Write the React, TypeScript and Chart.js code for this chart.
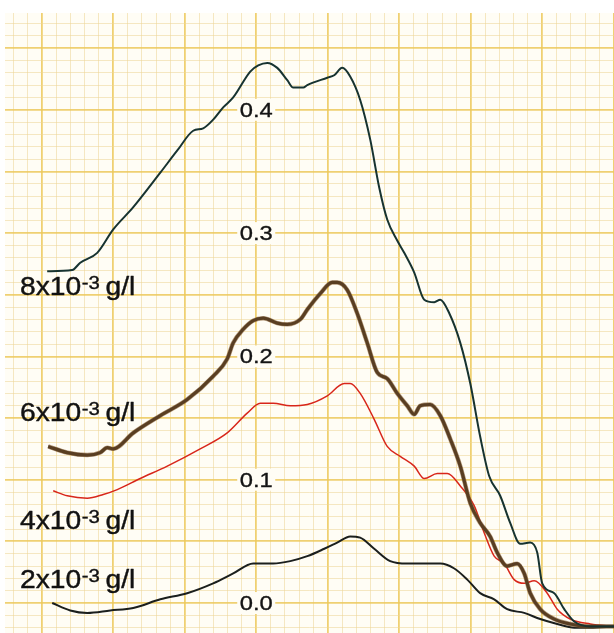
import React, { useEffect, useRef } from "react";
import { Chart, registerables } from "chart.js";

Chart.register(...registerables);

// Abscissa in chart-paper minor divisions, ordinate in absorbance units.
const xC8 = [0.38, 2.13, 2.69, 3.88, 5.0, 6.4, 8.29, 9.48, 10.59, 11.29, 11.99, 12.69, 13.39, 14.58, 15.14, 15.77, 16.47, 17.17, 17.59, 18.29, 18.57, 19.97, 20.45, 21.01, 21.57, 22.27, 22.97, 23.6, 24.16, 24.86, 25.35, 26.05, 26.75, 27.45, 27.87, 28.5, 29.27, 29.97, 30.66, 31.29, 32.06, 32.76, 33.46, 34.16, 34.65, 35.0, 35.84, 36.54, 37.24, 38.36, 40.03];
const yC8 = [0.269, 0.27, 0.276, 0.284, 0.303, 0.321, 0.349, 0.367, 0.383, 0.385, 0.392, 0.402, 0.41, 0.431, 0.436, 0.438, 0.434, 0.424, 0.418, 0.418, 0.42, 0.426, 0.428, 0.434, 0.427, 0.408, 0.376, 0.337, 0.311, 0.294, 0.284, 0.268, 0.246, 0.244, 0.246, 0.235, 0.211, 0.178, 0.135, 0.103, 0.087, 0.065, 0.048, 0.049, 0.041, 0.016, 0.008, -0.005, -0.015, -0.019, -0.019];

const xC6 = [0.45, 1.78, 3.18, 4.09, 4.58, 5.0, 6.4, 8.29, 10.17, 11.99, 12.97, 13.39, 14.09, 14.79, 15.49, 16.47, 17.17, 18.08, 18.57, 19.48, 20.31, 20.66, 21.36, 22.06, 22.76, 23.46, 24.16, 24.86, 25.56, 26.05, 26.47, 27.17, 27.87, 28.57, 29.27, 29.97, 30.66, 31.36, 31.85, 32.55, 33.25, 33.74, 34.16, 34.86, 35.84, 36.96, 38.36, 40.03];
const yC6 = [0.127, 0.122, 0.12, 0.122, 0.126, 0.125, 0.138, 0.152, 0.165, 0.184, 0.198, 0.211, 0.222, 0.229, 0.231, 0.227, 0.226, 0.23, 0.238, 0.251, 0.26, 0.26, 0.254, 0.235, 0.211, 0.187, 0.182, 0.17, 0.16, 0.153, 0.16, 0.161, 0.152, 0.133, 0.111, 0.081, 0.065, 0.054, 0.041, 0.03, 0.032, 0.024, 0.008, -0.005, -0.013, -0.017, -0.019, -0.019];

const xC4 = [0.8, 1.78, 3.18, 4.3, 5.28, 6.89, 8.78, 11.08, 12.97, 14.37, 15.28, 16.19, 17.38, 18.57, 19.97, 21.15, 21.57, 22.27, 23.25, 24.16, 25.07, 26.05, 26.75, 27.66, 28.36, 29.27, 30.24, 30.94, 31.64, 32.34, 33.04, 33.74, 34.44, 35.35, 36.05, 36.96, 38.36, 40.03];
const yC4 = [0.091, 0.087, 0.085, 0.088, 0.092, 0.101, 0.111, 0.125, 0.138, 0.154, 0.162, 0.162, 0.16, 0.161, 0.168, 0.178, 0.178, 0.17, 0.149, 0.127, 0.119, 0.111, 0.101, 0.105, 0.105, 0.095, 0.079, 0.057, 0.038, 0.032, 0.019, 0.016, 0.018, 0.008, -0.005, -0.013, -0.017, -0.019];

const xC2 = [0.73, 1.99, 3.18, 4.79, 6.4, 8.29, 10.17, 11.99, 13.39, 14.79, 16.19, 17.38, 18.57, 19.76, 20.66, 21.57, 22.27, 23.25, 24.37, 25.56, 26.75, 27.87, 28.85, 29.76, 30.66, 31.64, 32.55, 33.74, 34.86, 36.05, 37.24, 38.36, 40.03];
const yC2 = [0.0, -0.006, -0.008, -0.006, -0.004, 0.003, 0.008, 0.016, 0.024, 0.032, 0.032, 0.034, 0.038, 0.044, 0.049, 0.054, 0.053, 0.044, 0.034, 0.032, 0.032, 0.032, 0.028, 0.019, 0.008, 0.003, -0.005, -0.008, -0.013, -0.017, -0.02, -0.02, -0.019];

// Concentration labels: mantissa, exponent, unit, and the absorbance their baseline sits at.
const seriesMantissa = ["8x10", "6x10", "4x10", "2x10"];
const seriesExponent = "-3";
const seriesUnit = "g/l";
const seriesLabelAt = [0.250, 0.148, 0.060, 0.012];

// Absorbance values written on the paper.
const absorbanceLabels = [0.0, 0.1, 0.2, 0.3, 0.4];
const absorbanceLabelX = 15;

const X_MIN = -2.57;
const X_MAX = 40.02;
const Y_MIN = -0.0243;
const Y_MAX = 0.4785;

const pts = (xs: number[], ys: number[]) => xs.map((x, i) => ({ x, y: ys[i] }));

const FONT = '"Liberation Sans", Arial, sans-serif';
const STRETCH = 1.13;
const PAPER = "#fffdf5";

const paperPlugin = {
  id: "paper",
  beforeDraw(chart: any) {
    const { ctx, chartArea } = chart;
    ctx.save();
    ctx.fillStyle = "#ffffff";
    ctx.fillRect(0, 0, chart.width, chart.height);
    ctx.fillStyle = PAPER;
    ctx.fillRect(chartArea.left, chartArea.top, chartArea.right - chartArea.left, chartArea.bottom - chartArea.top);
    ctx.restore();
  },
  beforeDatasetsDraw(chart: any) {
    const { ctx } = chart;
    const xs = chart.scales.x;
    const ys = chart.scales.y;
    ctx.save();
    ctx.textBaseline = "middle";
    ctx.textAlign = "center";
    ctx.lineJoin = "round";
    // absorbance values with a small blank patch behind them
    const cx = xs.getPixelForValue(absorbanceLabelX);
    absorbanceLabels.forEach((v) => {
      const cy = ys.getPixelForValue(v);
      ctx.fillStyle = PAPER;
      ctx.fillRect(cx - 19, cy - 11, 38, 22);
      ctx.save();
      ctx.translate(cx, cy + 1);
      ctx.scale(STRETCH, 1);
      ctx.fillStyle = "#141414";
      ctx.strokeStyle = "#141414";
      ctx.lineWidth = 0.35;
      ctx.font = `21px ${FONT}`;
      ctx.fillText(v.toFixed(1), 0, 0);
      ctx.strokeText(v.toFixed(1), 0, 0);
      ctx.restore();
    });
    // concentration labels
    ctx.textAlign = "left";
    ctx.textBaseline = "alphabetic";
    seriesMantissa.forEach((m, i) => {
      const by = ys.getPixelForValue(seriesLabelAt[i]);
      ctx.save();
      ctx.translate(20, by);
      ctx.scale(STRETCH, 1);
      ctx.fillStyle = "#121212";
      ctx.strokeStyle = "#121212";
      ctx.lineWidth = 0.4;
      ctx.font = `25px ${FONT}`;
      ctx.fillText(m, 0, 0);
      ctx.strokeText(m, 0, 0);
      let x = ctx.measureText(m).width + 0.5;
      ctx.font = `18px ${FONT}`;
      ctx.fillText(seriesExponent, x, -6);
      ctx.strokeText(seriesExponent, x, -6);
      x += ctx.measureText(seriesExponent).width + 5;
      ctx.font = `25px ${FONT}`;
      ctx.fillText(seriesUnit, x, 0);
      ctx.strokeText(seriesUnit, x, 0);
      ctx.restore();
    });
    ctx.restore();
  },
};

const intTicks = (lo: number, hi: number, div: number) => {
  const out: { value: number }[] = [];
  for (let k = lo; k <= hi; k++) out.push({ value: k / div });
  return out;
};

const MAJOR = "rgba(236,200,90,0.85)";
const MINOR = "rgba(236,214,150,0.55)";

export default function App() {
  const ref = useRef<HTMLCanvasElement | null>(null);

  useEffect(() => {
    if (!ref.current) return;
    const isMajorX = (v: number) => Math.round(v) % 5 === 0;
    const isMajorY = (v: number) => Math.round(v * 100) % 5 === 0;
    const line = { pointRadius: 0, cubicInterpolationMode: "monotone" as const };
    const chart = new Chart(ref.current, {
      type: "line",
      data: {
        datasets: [
          { label: "8x10-3 g/l", data: pts(xC8, yC8), borderColor: "#173330", borderWidth: 2, ...line },
          { label: "6x10-3 g/l (edge)", data: pts(xC6, yC6), borderColor: "rgba(130,88,45,0.6)", borderWidth: 4.4, ...line },
          { label: "6x10-3 g/l", data: pts(xC6, yC6), borderColor: "#1c1712", borderWidth: 3.2, ...line },
          { label: "4x10-3 g/l", data: pts(xC4, yC4), borderColor: "#d8261a", borderWidth: 1.5, ...line },
          { label: "2x10-3 g/l", data: pts(xC2, yC2), borderColor: "#1b1f1d", borderWidth: 2, ...line },
        ],
      },
      options: {
        responsive: false,
        animation: false,
        devicePixelRatio: 1,
        layout: { padding: { top: 13, left: 5, right: 0, bottom: 0 } },
        plugins: { legend: { display: false }, tooltip: { enabled: false } },
        scales: {
          x: {
            type: "linear",
            min: X_MIN,
            max: X_MAX,
            afterBuildTicks: (s: any) => {
              s.ticks = intTicks(-2, 40, 1);
            },
            ticks: { display: false },
            border: { display: false },
            grid: {
              drawTicks: false,
              color: (c: any) => (isMajorX(c.tick.value) ? MAJOR : MINOR),
              lineWidth: (c: any) => (isMajorX(c.tick.value) ? 1.8 : 1),
            },
          },
          y: {
            type: "linear",
            min: Y_MIN,
            max: Y_MAX,
            afterBuildTicks: (s: any) => {
              s.ticks = intTicks(-2, 47, 100);
            },
            ticks: { display: false },
            border: { display: false },
            grid: {
              drawTicks: false,
              color: (c: any) => (isMajorY(c.tick.value) ? MAJOR : MINOR),
              lineWidth: (c: any) => (isMajorY(c.tick.value) ? 1.8 : 1),
            },
          },
        },
      },
      plugins: [paperPlugin],
    } as any);
    return () => chart.destroy();
  }, []);

  return (
    <div style={{ position: "fixed", left: 0, top: 0, width: 614, height: 633, background: "#ffffff" }}>
      <canvas ref={ref} width={614} height={633} style={{ display: "block", width: 614, height: 633 }} />
    </div>
  );
}
